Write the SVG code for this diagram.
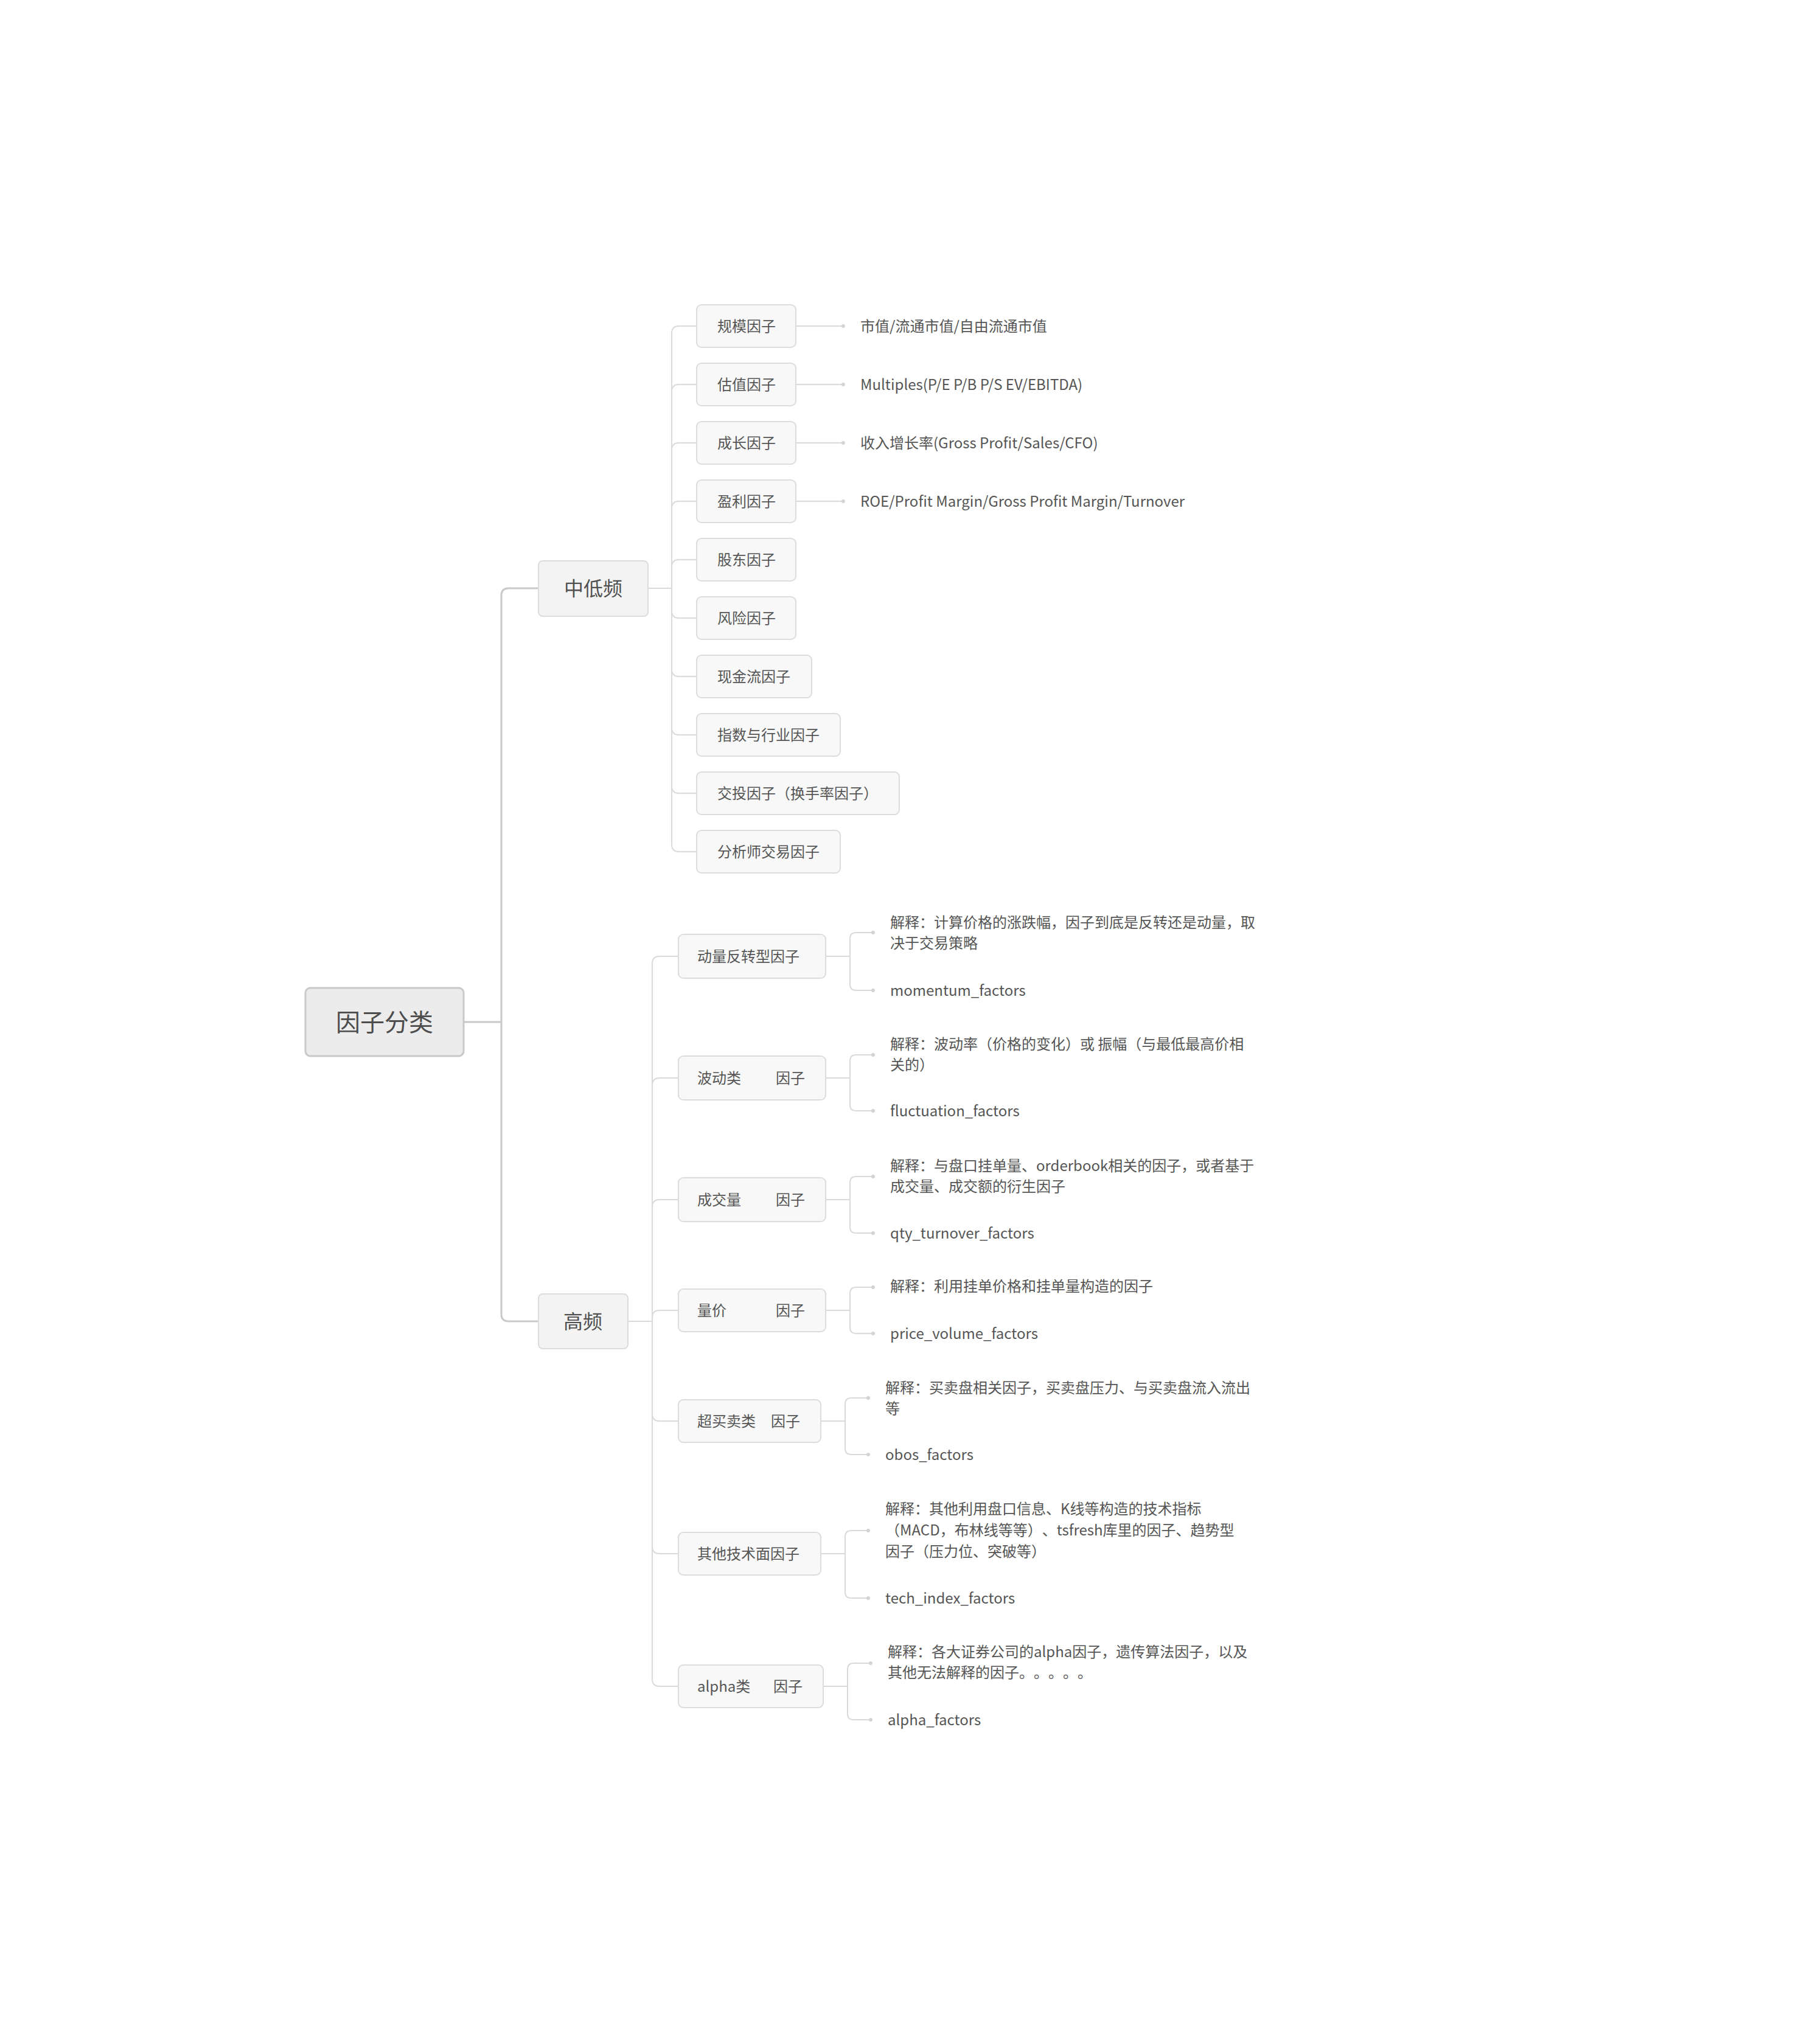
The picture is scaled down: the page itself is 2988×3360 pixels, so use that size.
<svg xmlns="http://www.w3.org/2000/svg" width="2988" height="3360" viewBox="0 0 2988 3360">
<style>
text{font-family:"PingFang SC","Noto Sans CJK SC","Noto Sans",sans-serif;fill:#555;dominant-baseline:central;text-spacing-trim:space-all;font-feature-settings:"chws" 0,"halt" 0;transform:translateY(-2px)}
.rootbox{fill:#ececec;stroke:#c9c9c9;stroke-width:3}
.mainbox{fill:#f3f3f3;stroke:#dcdcdc;stroke-width:2}
.subbox{fill:#f8f8f8;stroke:#dcdcdc;stroke-width:2}
.trunk{fill:none;stroke:#c9c9c9;stroke-width:3}
.br{fill:none;stroke:#dadada;stroke-width:2}
.dot{fill:#d4d4d4}
.t40{font-size:40px;fill:#4d4d4d}
.t32{font-size:32px;fill:#505050}
.t24{font-size:24px}
</style>
<rect width="2988" height="3360" fill="#ffffff"/>
<g id="connectors">
<path class="trunk" d="M762,1680 H824 M885,967 H836 Q824,967 824,979 V2160 Q824,2172 836,2172 H885"/>
<path class="br" d="M1065,967 H1104 M1104,967 V548 Q1104,536 1116,536 H1146 M1104,967 V644 Q1104,632 1116,632 H1146 M1104,967 V740 Q1104,728 1116,728 H1146 M1104,967 V836 Q1104,824 1116,824 H1146 M1104,967 V932 Q1104,920 1116,920 H1146 M1104,967 V1004 Q1104,1016 1116,1016 H1146 M1104,967 V1100 Q1104,1112 1116,1112 H1146 M1104,967 V1196 Q1104,1208 1116,1208 H1146 M1104,967 V1292 Q1104,1304 1116,1304 H1146 M1104,967 V1388 Q1104,1400 1116,1400 H1146"/>
<path class="br" d="M1308,536 H1385 M1308,632 H1385 M1308,728 H1385 M1308,824 H1385"/>
<circle class="dot" cx="1386" cy="536" r="3"/>
<circle class="dot" cx="1386" cy="632" r="3"/>
<circle class="dot" cx="1386" cy="728" r="3"/>
<circle class="dot" cx="1386" cy="824" r="3"/>
<path class="br" d="M1032,2172 H1072 M1072,2172 V1584 Q1072,1572 1084,1572 H1115 M1072,2172 V1784 Q1072,1772 1084,1772 H1115 M1072,2172 V1984 Q1072,1972 1084,1972 H1115 M1072,2172 V2166 Q1072,2154 1084,2154 H1115 M1072,2172 V2324 Q1072,2336 1084,2336 H1115 M1072,2172 V2542 Q1072,2554 1084,2554 H1115 M1072,2172 V2760 Q1072,2772 1084,2772 H1115"/>
<path class="br" d="M1357,1572 H1397 M1434,1533 H1407 Q1397,1533 1397,1543 V1618 Q1397,1628 1407,1628 H1434"/>
<path class="br" d="M1357,1772 H1397 M1434,1734 H1407 Q1397,1734 1397,1744 V1816 Q1397,1826 1407,1826 H1434"/>
<path class="br" d="M1357,1972 H1397 M1434,1934 H1407 Q1397,1934 1397,1944 V2017 Q1397,2027 1407,2027 H1434"/>
<path class="br" d="M1357,2154 H1397 M1434,2116 H1407 Q1397,2116 1397,2126 V2182 Q1397,2192 1407,2192 H1434"/>
<path class="br" d="M1349,2336 H1389 M1426,2298 H1399 Q1389,2298 1389,2308 V2381 Q1389,2391 1399,2391 H1426"/>
<path class="br" d="M1349,2554 H1389 M1426,2516 H1399 Q1389,2516 1389,2526 V2617 Q1389,2627 1399,2627 H1426"/>
<path class="br" d="M1353,2772 H1393 M1430,2734 H1403 Q1393,2734 1393,2744 V2817 Q1393,2827 1403,2827 H1430"/>
<circle class="dot" cx="1435" cy="1533" r="3"/><circle class="dot" cx="1435" cy="1628" r="3"/>
<circle class="dot" cx="1435" cy="1734" r="3"/><circle class="dot" cx="1435" cy="1826" r="3"/>
<circle class="dot" cx="1435" cy="1934" r="3"/><circle class="dot" cx="1435" cy="2027" r="3"/>
<circle class="dot" cx="1435" cy="2116" r="3"/><circle class="dot" cx="1435" cy="2192" r="3"/>
<circle class="dot" cx="1427" cy="2298" r="3"/><circle class="dot" cx="1427" cy="2391" r="3"/>
<circle class="dot" cx="1427" cy="2516" r="3"/><circle class="dot" cx="1427" cy="2627" r="3"/>
<circle class="dot" cx="1431" cy="2734" r="3"/><circle class="dot" cx="1431" cy="2827" r="3"/>
</g>
<g id="root"><rect class="rootbox" x="502" y="1624" width="260" height="112" rx="8"/><text class="t40" x="632" y="1680" text-anchor="middle">因子分类</text></g>
<g id="n-mid"><rect class="mainbox" x="885" y="922" width="180" height="91" rx="7"/><text class="t32" x="975" y="967" text-anchor="middle">中低频</text></g>
<g id="n-high"><rect class="mainbox" x="885" y="2127" width="147" height="90" rx="7"/><text class="t32" x="958" y="2172" text-anchor="middle">高频</text></g>
<g id="m1"><rect class="subbox" x="1145" y="501" width="163" height="70" rx="8"/><text class="t24" x="1179" y="536">规模因子</text></g>
<g id="m2"><rect class="subbox" x="1145" y="597" width="163" height="70" rx="8"/><text class="t24" x="1179" y="632">估值因子</text></g>
<g id="m3"><rect class="subbox" x="1145" y="693" width="163" height="70" rx="8"/><text class="t24" x="1179" y="728">成长因子</text></g>
<g id="m4"><rect class="subbox" x="1145" y="789" width="163" height="70" rx="8"/><text class="t24" x="1179" y="824">盈利因子</text></g>
<g id="m5"><rect class="subbox" x="1145" y="885" width="163" height="70" rx="8"/><text class="t24" x="1179" y="920">股东因子</text></g>
<g id="m6"><rect class="subbox" x="1145" y="981" width="163" height="70" rx="8"/><text class="t24" x="1179" y="1016">风险因子</text></g>
<g id="m7"><rect class="subbox" x="1145" y="1077" width="189" height="70" rx="8"/><text class="t24" x="1179" y="1112">现金流因子</text></g>
<g id="m8"><rect class="subbox" x="1145" y="1173" width="236" height="70" rx="8"/><text class="t24" x="1179" y="1208">指数与行业因子</text></g>
<g id="m9"><rect class="subbox" x="1145" y="1269" width="333" height="70" rx="8"/><text class="t24" x="1179" y="1304">交投因子（换手率因子）</text></g>
<g id="m10"><rect class="subbox" x="1145" y="1365" width="236" height="70" rx="8"/><text class="t24" x="1179" y="1400">分析师交易因子</text></g>
<g id="l1"><text class="t24" x="1414" y="536">市值/流通市值/自由流通市值</text></g>
<g id="l2"><text class="t24" x="1414" y="632">Multiples(P/E P/B P/S EV/EBITDA)</text></g>
<g id="l3"><text class="t24" x="1414" y="728">收入增长率(Gross Profit/Sales/CFO)</text></g>
<g id="l4"><text class="t24" x="1414" y="824">ROE/Profit Margin/Gross Profit Margin/Turnover</text></g>
<g id="h1"><rect class="subbox" x="1115" y="1536" width="242" height="72" rx="8"/><text class="t24" x="1146" y="1572">动量反转型因子</text></g>
<g id="h2"><rect class="subbox" x="1115" y="1736" width="242" height="72" rx="8"/><text class="t24" x="1146" y="1772">波动类</text><text class="t24" x="1275" y="1772">因子</text></g>
<g id="h3"><rect class="subbox" x="1115" y="1936" width="242" height="72" rx="8"/><text class="t24" x="1146" y="1972">成交量</text><text class="t24" x="1275" y="1972">因子</text></g>
<g id="h4"><rect class="subbox" x="1115" y="2119" width="242" height="70" rx="8"/><text class="t24" x="1146" y="2154">量价</text><text class="t24" x="1275" y="2154">因子</text></g>
<g id="h5"><rect class="subbox" x="1115" y="2301" width="234" height="70" rx="8"/><text class="t24" x="1146" y="2336">超买卖类</text><text class="t24" x="1267" y="2336">因子</text></g>
<g id="h6"><rect class="subbox" x="1115" y="2519" width="234" height="70" rx="8"/><text class="t24" x="1146" y="2554">其他技术面因子</text></g>
<g id="h7"><rect class="subbox" x="1115" y="2737" width="238" height="70" rx="8"/><text class="t24" x="1146" y="2772">alpha类</text><text class="t24" x="1271" y="2772">因子</text></g>
<g id="hl1a"><text class="t24" x="1463"><tspan x="1463" y="1516">解释：计算价格的涨跌幅，因子到底是反转还是动量，取</tspan><tspan x="1463" y="1550">决于交易策略</tspan></text></g>
<g id="hl1b"><text class="t24" x="1463" y="1628">momentum_factors</text></g>
<g id="hl2a"><text class="t24" x="1463"><tspan x="1463" y="1716">解释：波动率（价格的变化）或 振幅（与最低最高价相</tspan><tspan x="1463" y="1750">关的）</tspan></text></g>
<g id="hl2b"><text class="t24" x="1463" y="1826">fluctuation_factors</text></g>
<g id="hl3a"><text class="t24" x="1463"><tspan x="1463" y="1916">解释：与盘口挂单量、orderbook相关的因子，或者基于</tspan><tspan x="1463" y="1950">成交量、成交额的衍生因子</tspan></text></g>
<g id="hl3b"><text class="t24" x="1463" y="2027">qty_turnover_factors</text></g>
<g id="hl4a"><text class="t24" x="1463" y="2114">解释：利用挂单价格和挂单量构造的因子</text></g>
<g id="hl4b"><text class="t24" x="1463" y="2192">price_volume_factors</text></g>
<g id="hl5a"><text class="t24" x="1455"><tspan x="1455" y="2281">解释：买卖盘相关因子，买卖盘压力、与买卖盘流入流出</tspan><tspan x="1455" y="2315">等</tspan></text></g>
<g id="hl5b"><text class="t24" x="1455" y="2391">obos_factors</text></g>
<g id="hl6a"><text class="t24" x="1455"><tspan x="1455" y="2480">解释：其他利用盘口信息、K线等构造的技术指标</tspan><tspan x="1455" y="2515">（MACD，布林线等等）、tsfresh库里的因子、趋势型</tspan><tspan x="1455" y="2550">因子（压力位、突破等）</tspan></text></g>
<g id="hl6b"><text class="t24" x="1455" y="2627">tech_index_factors</text></g>
<g id="hl7a"><text class="t24" x="1459"><tspan x="1459" y="2715">解释：各大证券公司的alpha因子，遗传算法因子，以及</tspan><tspan x="1459" y="2749">其他无法解释的因子。。。。。</tspan></text></g>
<g id="hl7b"><text class="t24" x="1459" y="2827">alpha_factors</text></g>
</svg>
